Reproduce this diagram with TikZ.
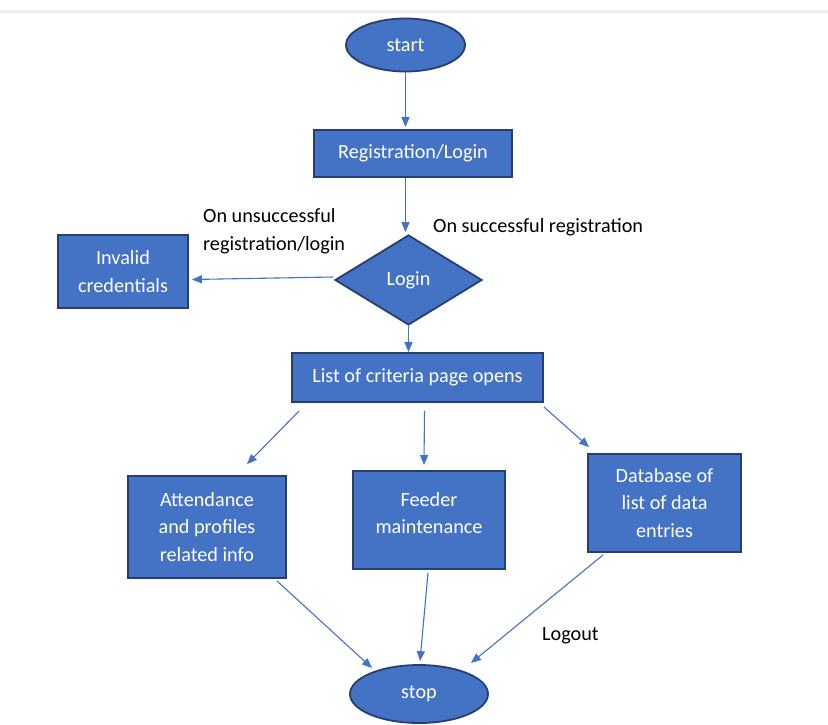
\documentclass[tikz,border=0pt]{standalone}
\usepackage{fontspec}
\setmainfont{Carlito}
\usetikzlibrary{shapes.geometric,arrows.meta,calc}
\definecolor{boxfill}{HTML}{4472C4}
\definecolor{boxline}{HTML}{253F72}
\definecolor{arrowc}{HTML}{4472C4}
\tikzset{
  x={(1pt,0)}, y={(0,-1pt)},
  every node/.style={font=\fontsize{20.2}{27.5}\selectfont},
  procbox/.style={draw=boxline, line width=1.8pt, fill=boxfill, text=white, align=center, inner sep=0pt},
  termell/.style={ellipse, draw=boxline, line width=1.8pt, fill=boxfill, text=white, inner sep=0pt},
  decdia/.style={diamond, draw=boxline, line width=1.8pt, fill=boxfill, text=white, inner sep=0pt},
  flowarrow/.style={draw=arrowc, line width=1.1pt, -{Triangle[length=10pt,width=8pt]}},
  lbl/.style={text=black, align=left, inner sep=0pt}
}
\begin{document}
\begin{tikzpicture}
\useasboundingbox (0,0) rectangle (828,724);
\fill[white] (0,0) rectangle (828,724);
\draw[color=black!6, line width=3pt] (0,11) -- (828,11);

\node[termell, minimum width=119, minimum height=53] (start) at (405.5,45) {start};
\node[procbox, minimum width=198, minimum height=47] (reg) at (413,153.5) {Registration/Login};
\node[decdia, minimum width=147, minimum height=90] (login) at (408.5,280) {Login};
\node[procbox, minimum width=130, minimum height=73] (inv) at (123,271.5) {Invalid\\credentials};
\node[procbox, minimum width=251, minimum height=49] (list) at (417.5,377.5) {List of criteria page opens};
\node[procbox, minimum width=158, minimum height=102] (att) at (207,527) {Attendance\\and profiles\\related info};
\node[procbox, minimum width=152, minimum height=98] (feed) at (429,520) {};
\node[text=white, align=center, inner sep=0pt] (feedtxt) at (429,513) {Feeder\\maintenance};
\node[procbox, minimum width=153, minimum height=98] (db) at (664.5,503) {Database of\\list of data\\entries};
\node[termell, minimum width=138, minimum height=58] (stop) at (419,694) {stop};

\node[lbl, anchor=west] (unsucc) at (203,231) {On unsuccessful\\registration/login};
\node[lbl, anchor=west] (succ) at (433,227) {On successful registration};
\node[lbl, anchor=west] (logout) at (542,636) {Logout};

\draw[flowarrow, shorten >=2pt] (start.south) -- (start.south |- reg.north);
\draw[flowarrow, shorten >=2pt] (start.south |- reg.south) -- (start.south |- login.north);
\draw[flowarrow] ($(login.west)+(-1,-3)$) -- ($(inv.east)+(3,8)$);
\draw[flowarrow] (login.south) -- (login.south |- list.north);
\draw[flowarrow] ($(list.south west)+(8,8)$) -- ($(att.north)+(40,-11)$);
\draw[flowarrow] ($(list.south)+(7,8)$) -- ($(feed.north)+(-5,-5)$);
\draw[flowarrow] ($(list.south east)+(0,4)$) -- ($(db.north west)+(2,-6)$);
\draw[flowarrow] ($(att.south east)+(-10,2)$) -- ($(stop.center)+(-47,-26)$);
\draw[flowarrow] ($(feed.south)+(-1,3)$) -- ($(stop.north)+(1,-3)$);
\draw[flowarrow] ($(db.south west)+(16,2)$) -- ($(stop.center)+(52,-31)$);
\end{tikzpicture}
\end{document}
